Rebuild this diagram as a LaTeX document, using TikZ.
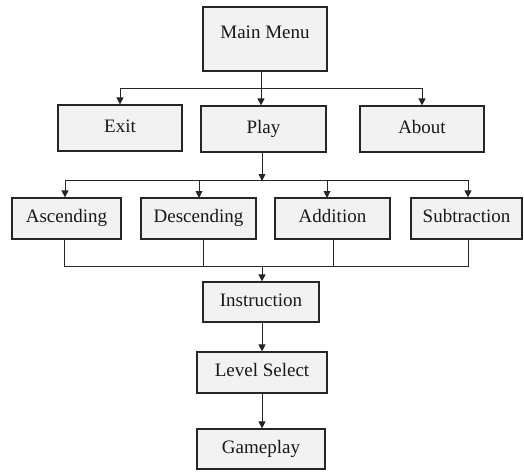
\documentclass[tikz,border=0pt]{standalone}
\usepackage{fontspec}
\setmainfont{Liberation Serif}
\usetikzlibrary{arrows.meta}
\begin{document}
\begin{tikzpicture}[x=1pt,y=-1pt,
  box/.style={draw=black!85,line width=1.2pt,fill=black!5,inner sep=0pt,font=\fontsize{19}{21}\selectfont,text=black!90,text height=13pt,text depth=5pt},
  conn/.style={line width=0.9pt,draw=black!85},
  arr/.style={conn,-{Triangle[width=7pt,length=7pt]}}]
\useasboundingbox (0,0) rectangle (524,472);
\node[box,minimum width=124,minimum height=64] (main) at (265,39) {\raisebox{5pt}{Main Menu}};
\node[box,minimum width=124,minimum height=46] (exit) at (120,128) {Exit};
\node[box,minimum width=125,minimum height=46] (play) at (263.5,129) {Play};
\node[box,minimum width=124,minimum height=46] (about) at (422,129) {About};
\node[box,minimum width=109,minimum height=41] (asc) at (66.5,218.5) {Ascending};
\node[box,minimum width=115,minimum height=41] (desc) at (198.5,218.5) {Descending};
\node[box,minimum width=115,minimum height=41] (add) at (332.5,218.5) {Addition};
\node[box,minimum width=111,minimum height=41] (sub) at (466.5,218.5) {Subtraction};
\node[box,minimum width=116,minimum height=40] (instr) at (261,302) {Instruction};
\node[box,minimum width=130,minimum height=41] (level) at (262,372.5) {Level Select};
\node[box,minimum width=128,minimum height=40] (game) at (261,449) {Gameplay};
% top fan-out
\coordinate (b1) at (261,88);
\draw[conn] (main.south -| b1) -- (b1);
\draw[arr] (b1) -| (exit.north);
\draw[arr] (b1) -- (play.north -| b1);
\draw[arr] (b1) -| (about.north);
% play to games
\coordinate (b2) at (262,180);
\draw[arr] (play.south -| b2) -- ([yshift=-1]b2);
\draw[conn] (65,180) coordinate (b2l) -- (468,180) coordinate (b2r);
\draw[arr] (b2l) -- (b2l |- asc.north);
\draw[arr] (199,180) -- (199,198);
\draw[arr] (327,180) -- (327,198);
\draw[arr] (b2r) -- (b2r |- sub.north);
% games to instruction
\coordinate (b3) at (262,266);
\draw[conn] (asc.south -| 64,0) |- (b3);
\draw[conn] (sub.south -| 468,0) |- (b3);
\draw[conn] (desc.south -| 203,0) -- (203,266);
\draw[conn] (add.south -| 333,0) -- (333,266);
\draw[arr] (b3) -- (instr.north -| b3);
\draw[arr] (instr.south -| 262,0) -- (level.north -| 262,0);
\draw[arr] (level.south -| 262,0) -- (game.north -| 262,0);
\end{tikzpicture}
\end{document}
